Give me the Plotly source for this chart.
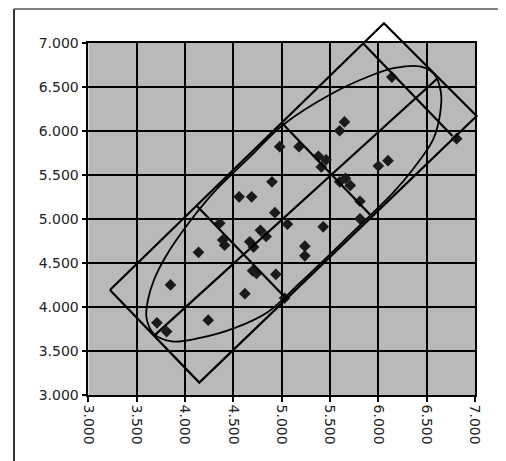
import plotly.graph_objects as go

# ---------------- data ----------------
x_pts = [3.71, 3.81, 3.85, 4.14, 4.24, 4.36, 4.39, 4.41, 4.56, 4.62, 4.69, 4.67, 4.71, 4.70,
         4.74, 4.78, 4.84, 4.90, 4.93, 4.94, 4.98, 5.06, 5.03, 5.18, 5.24, 5.24, 5.38, 5.41,
         5.46, 5.43, 5.60, 5.65, 5.60, 5.66, 5.71, 5.81, 5.81, 6.00, 6.10, 6.14, 6.81]
y_pts = [3.82, 3.72, 4.25, 4.62, 3.85, 4.95, 4.76, 4.70, 5.25, 4.15, 5.25, 4.74, 4.68, 4.41,
         4.38, 4.87, 4.80, 5.42, 5.07, 4.37, 5.82, 4.94, 4.10, 5.82, 4.69, 4.58, 5.71, 5.59,
         5.67, 4.91, 6.00, 6.10, 5.42, 5.46, 5.38, 5.20, 5.00, 5.60, 5.66, 6.61, 5.91]

rect_x = [3.224, 4.148, 7.017, 6.058, 3.224]
rect_y = [4.193, 3.141, 6.168, 7.220, 4.193]

cross1_x = [4.121, 5.044]
cross1_y = [5.150, 4.099]
cross2_x = [5.000, 5.923]
cross2_y = [6.090, 5.037]
cross3_x = [5.844, 6.767]
cross3_y = [6.992, 5.940]

axis_line_x = [3.679, 6.616]
axis_line_y = [3.671, 6.599]

ell_x = [3.602, 3.617, 3.679, 3.804, 4.000, 4.321, 4.672, 5.013, 5.531, 5.913, 6.172, 6.430,
         6.575, 6.647, 6.637, 6.565, 6.368, 6.151, 5.706, 5.189, 4.858, 4.517, 4.155, 3.866,
         3.679, 3.602]
ell_y = [3.875, 4.079, 4.306, 4.579, 4.897, 5.328, 5.703, 6.066, 6.429, 6.622, 6.713, 6.730,
         6.645, 6.440, 6.179, 5.896, 5.578, 5.294, 4.817, 4.272, 3.943, 3.762, 3.648, 3.608,
         3.693, 3.875]

tick_vals = [3.0, 3.5, 4.0, 4.5, 5.0, 5.5, 6.0, 6.5, 7.0]
tick_text = ["3.000", "3.500", "4.000", "4.500", "5.000", "5.500", "6.000", "6.500", "7.000"]

# ---------------- layout geometry ----------------
OFF = 8  # page body margin
W, H = 506 - OFF, 461 - OFF
PL, PR, PT, PB = 88.3 - OFF, 475.0 - OFF, 42.7 - OFF, 395.0 - OFF
dom_x = [PL / W, PR / W]
dom_y = [1 - PB / H, 1 - PT / H]
x_range = [3.0, 7.0]
y_range = [3.0, 7.0]


def full_range(r, d):
    span = (r[1] - r[0]) / (d[1] - d[0])
    lo = r[0] - d[0] * span
    return [lo, lo + span]


fig = go.Figure()

fig.add_trace(go.Scatter(x=x_pts, y=y_pts, mode="markers", xaxis="x", yaxis="y",
                         marker=dict(symbol="diamond", size=9, color="#1a1a1a"),
                         showlegend=False, hoverinfo="skip"))

line_style = dict(color="#000000", width=2.2)
for lx, ly in [(rect_x, rect_y), (cross1_x, cross1_y), (cross2_x, cross2_y),
               (cross3_x, cross3_y), (axis_line_x, axis_line_y)]:
    fig.add_trace(go.Scatter(x=lx, y=ly, mode="lines", xaxis="x2", yaxis="y2",
                             line=line_style, showlegend=False, hoverinfo="skip"))

fig.add_trace(go.Scatter(x=ell_x, y=ell_y, mode="lines", xaxis="x2", yaxis="y2",
                         line=dict(color="#000000", width=1.8, shape="spline", smoothing=1.0),
                         showlegend=False, hoverinfo="skip"))

tick_font = dict(family="DejaVu Sans", size=14, color="#222222")
common = dict(tickvals=tick_vals, ticktext=tick_text, ticks="outside", ticklen=5,
              tickcolor="#000000", tickwidth=1.5, showgrid=True, gridcolor="#000000",
              gridwidth=1.5, showline=True, linecolor="#000000", linewidth=1.5,
              mirror=True, zeroline=False, tickfont=tick_font, automargin=False,
              fixedrange=True)

fig.update_layout(
    template="none",
    width=W, height=H,
    margin=dict(l=0, r=0, t=0, b=0, pad=0),
    paper_bgcolor="#ffffff",
    plot_bgcolor="rgba(0,0,0,0)",
    showlegend=False,
    xaxis=dict(domain=dom_x, range=x_range, anchor="y", tickangle=90, **common),
    yaxis=dict(domain=dom_y, range=y_range, anchor="x", **common),
    xaxis2=dict(domain=[0, 1], range=full_range(x_range, dom_x), anchor="y2",
                visible=False, fixedrange=True),
    yaxis2=dict(domain=[0, 1], range=full_range(y_range, dom_y), anchor="x2",
                visible=False, fixedrange=True),
    shapes=[
        dict(type="rect", xref="x", yref="y", x0=x_range[0], x1=x_range[1],
             y0=y_range[0], y1=y_range[1], fillcolor="#b9b9b9",
             line=dict(width=0), layer="below"),
        dict(type="line", xref="paper", yref="paper", x0=(14 - OFF) / W, x1=(14 - OFF) / W,
             y0=-0.05, y1=1 - 1 / H, line=dict(color="#333333", width=2)),
        dict(type="line", xref="paper", yref="paper", x0=(14 - OFF) / W, x1=(503 - OFF) / W,
             y0=1 - 1 / H, y1=1 - 1 / H, line=dict(color="#555555", width=1.5)),
        dict(type="line", xref="paper", yref="paper", x0=(503 - OFF) / W, x1=(503 - OFF) / W,
             y0=-0.05, y1=1 - 1 / H, line=dict(color="#bbbbbb", width=1.5)),
    ],
)

fig.write_html("out.html")
